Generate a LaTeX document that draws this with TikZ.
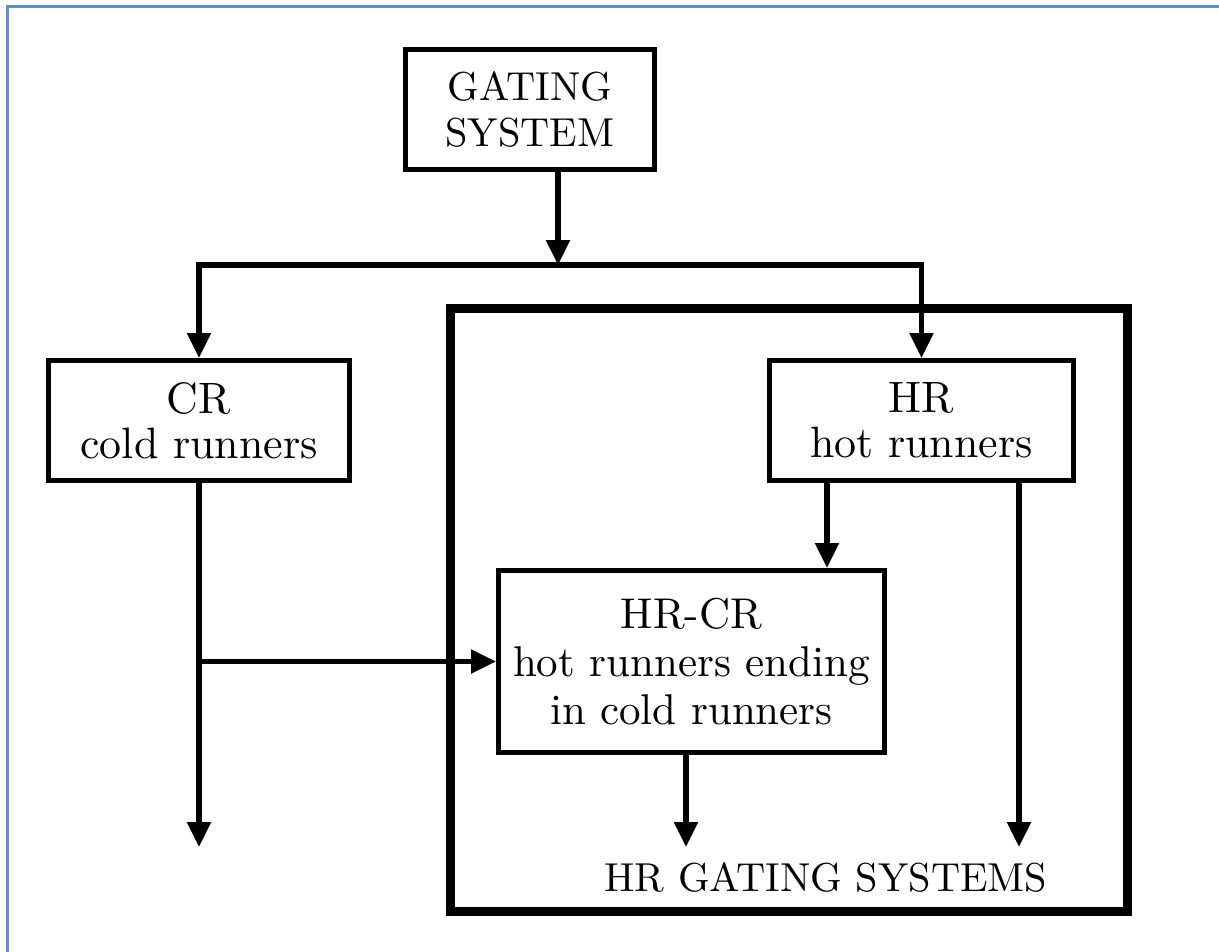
\documentclass[tikz,border=0pt]{standalone}
\usepackage{fontspec}
\setmainfont{lmroman10-regular.otf}
\usetikzlibrary{arrows.meta,calc}
\definecolor{frameblue}{RGB}{95,140,212}
\tikzset{
  box/.style={draw=black, line width=0.1cm, inner sep=0pt, align=center, fill=white},
  bigframe/.style={draw=black, line width=0.18cm, inner sep=0pt},
  conn/.style={draw=black, line width=0.11cm, line join=miter,
    -{Triangle[width=0.46cm,length=0.5cm]}},
  gstext/.style={font=\fontsize{23pt}{26.7pt}\selectfont},
  rtext/.style={font=\fontsize{25pt}{25.5pt}\selectfont},
  hctext/.style={font=\fontsize{24.5pt}{27.5pt}\selectfont},
}
\begin{document}
\begin{tikzpicture}[x=0.02cm,y=-0.02cm]
\useasboundingbox (0,0) rectangle (1219,952);
\fill[white] (0,0) rectangle (1219,952);
\draw[frameblue, line width=0.045cm] (7.5,952) -- (7.5,6.5) -- (1219,6.5);

% big frame
\node[bigframe, minimum width=13.56cm, minimum height=12.08cm] (frame) at (789,610) {};
\node[gstext, anchor=base] (hrsys) at (826,891) {HR GATING SYSTEMS};

% boxes
\node[box, gstext, minimum width=4.98cm, minimum height=2.4cm] (gs) at (530,109.5) {GATING\\SYSTEM};
\node[box, rtext, minimum width=6.02cm, minimum height=2.4cm] (cr) at (199,420.5) {CR\\cold runners};
\node[box, rtext, minimum width=6.08cm, minimum height=2.4cm] (hr) at (921.5,420.5) {HR\\hot runners};
\node[box, hctext, minimum width=7.72cm, minimum height=3.64cm] (hrcr) at (691.5,661.5) {HR-CR\\hot runners ending\\in cold runners};

% coordinates
\coordinate (split) at (558,265);
\coordinate (hrx) at (827,0);
\coordinate (crend) at (199,847);
\coordinate (hrend) at (1019,847);
\coordinate (hcend) at (686,847);

% connectors
\draw[conn] (gs.south -| split) -- (split);
\draw[conn] (split) -| (cr.north);
\draw[conn] (split) -| (hr.north);
\draw[conn] (cr.south) -- (cr.south |- crend);
\draw[conn] (cr.south |- hrcr.west) -- (hrcr.west);
\draw[conn] (hr.south -| hrx) -- (hrcr.north -| hrx);
\draw[conn] (hr.south -| hrend) -- (hrend);
\draw[conn] (hrcr.south -| hcend) -- (hcend);
\end{tikzpicture}
\end{document}
